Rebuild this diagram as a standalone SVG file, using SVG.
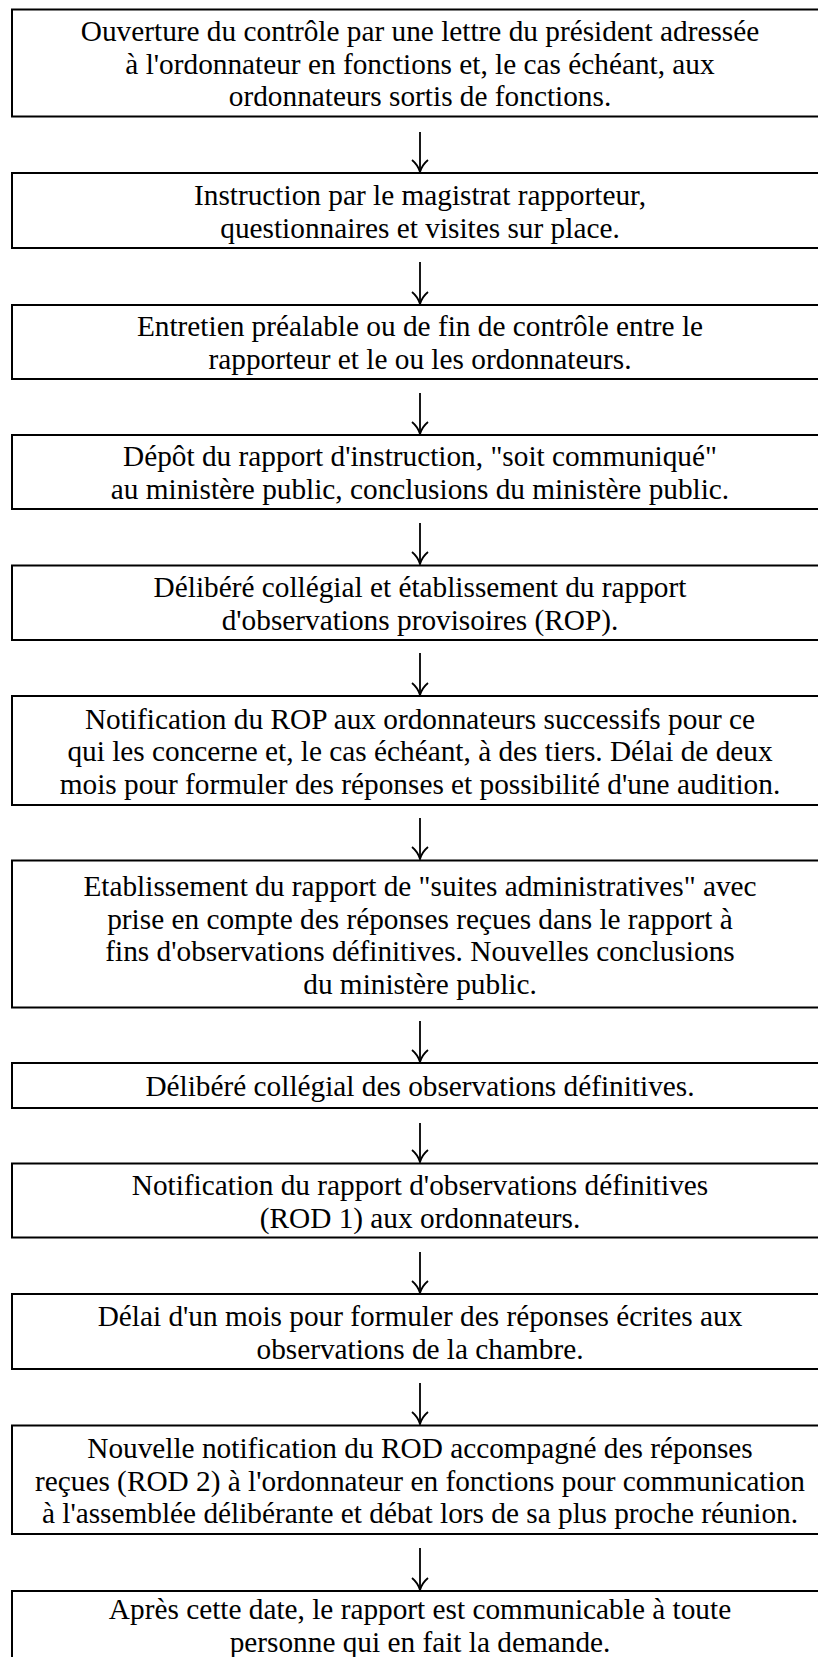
<svg xmlns="http://www.w3.org/2000/svg" width="818" height="1657" viewBox="0 0 818 1657">
<defs>
<style>
.box{fill:#fff;stroke:#000;stroke-width:2}
.t{font-family:"Liberation Serif","Times New Roman",serif;font-size:29.3px;fill:#000;text-anchor:middle}
.c{stroke:#000;stroke-width:1.8;fill:none}
</style>
</defs>
<rect width="818" height="1657" fill="#fff"/>
<g id="connectors">
<line class="c" x1="420" y1="132" x2="420" y2="172"/>
<line class="c" x1="420" y1="262" x2="420" y2="304"/>
<line class="c" x1="420" y1="393" x2="420" y2="434"/>
<line class="c" x1="420" y1="523" x2="420" y2="564"/>
<line class="c" x1="420" y1="653" x2="420" y2="695"/>
<line class="c" x1="420" y1="818" x2="420" y2="859"/>
<line class="c" x1="420" y1="1021" x2="420" y2="1062"/>
<line class="c" x1="420" y1="1123" x2="420" y2="1162"/>
<line class="c" x1="420" y1="1252" x2="420" y2="1293"/>
<line class="c" x1="420" y1="1383" x2="420" y2="1424"/>
<line class="c" x1="420" y1="1548" x2="420" y2="1590"/>
<g class="c">
<path d="M412,160 Q418,165 420,172 Q422,165 428,160"/>
<path d="M412,292 Q418,297 420,304 Q422,297 428,292"/>
<path d="M412,422 Q418,427 420,434 Q422,427 428,422"/>
<path d="M412,552 Q418,557 420,564 Q422,557 428,552"/>
<path d="M412,683 Q418,688 420,695 Q422,688 428,683"/>
<path d="M412,847 Q418,852 420,859 Q422,852 428,847"/>
<path d="M412,1050 Q418,1055 420,1062 Q422,1055 428,1050"/>
<path d="M412,1150 Q418,1155 420,1162 Q422,1155 428,1150"/>
<path d="M412,1281 Q418,1286 420,1293 Q422,1286 428,1281"/>
<path d="M412,1412 Q418,1417 420,1424 Q422,1417 428,1412"/>
<path d="M412,1578 Q418,1583 420,1590 Q422,1583 428,1578"/>
</g>
</g>
<g id="n1"><rect class="box" x="12" y="9.5" width="820" height="107"/>
<text class="t"><tspan x="420" y="41">Ouverture du contrôle par une lettre du président adressée</tspan><tspan x="420" y="73.5">à l'ordonnateur en fonctions et, le cas échéant, aux</tspan><tspan x="420" y="106">ordonnateurs sortis de fonctions.</tspan></text></g>
<g id="n2"><rect class="box" x="12" y="173" width="820" height="75"/>
<text class="t"><tspan x="420" y="205">Instruction par le magistrat rapporteur,</tspan><tspan x="420" y="237.5">questionnaires et visites sur place.</tspan></text></g>
<g id="n3"><rect class="box" x="12" y="305" width="820" height="74"/>
<text class="t"><tspan x="420" y="336">Entretien préalable ou de fin de contrôle entre le</tspan><tspan x="420" y="368.5">rapporteur et le ou les ordonnateurs.</tspan></text></g>
<g id="n4"><rect class="box" x="12" y="435" width="820" height="74"/>
<text class="t"><tspan x="420" y="466">Dépôt du rapport d'instruction, "soit communiqué"</tspan><tspan x="420" y="498.5">au ministère public, conclusions du ministère public.</tspan></text></g>
<g id="n5"><rect class="box" x="12" y="565.5" width="820" height="74.5"/>
<text class="t"><tspan x="420" y="597">Délibéré collégial et établissement du rapport</tspan><tspan x="420" y="629.5">d'observations provisoires (ROP).</tspan></text></g>
<g id="n6"><rect class="box" x="12" y="696" width="820" height="109"/>
<text class="t"><tspan x="420" y="728.5">Notification du ROP aux ordonnateurs successifs pour ce</tspan><tspan x="420" y="761">qui les concerne et, le cas échéant, à des tiers. Délai de deux</tspan><tspan x="420" y="793.5">mois pour formuler des réponses et possibilité d'une audition.</tspan></text></g>
<g id="n7"><rect class="box" x="12" y="860.5" width="820" height="147"/>
<text class="t"><tspan x="420" y="896">Etablissement du rapport de "suites administratives" avec</tspan><tspan x="420" y="928.5">prise en compte des réponses reçues dans le rapport à</tspan><tspan x="420" y="961">fins d'observations définitives. Nouvelles conclusions</tspan><tspan x="420" y="993.5">du ministère public.</tspan></text></g>
<g id="n8"><rect class="box" x="12" y="1063" width="820" height="45"/>
<text class="t"><tspan x="420" y="1096">Délibéré collégial des observations définitives.</tspan></text></g>
<g id="n9"><rect class="box" x="12" y="1163.5" width="820" height="74"/>
<text class="t"><tspan x="420" y="1195">Notification du rapport d'observations définitives</tspan><tspan x="420" y="1227.5">(ROD 1) aux ordonnateurs.</tspan></text></g>
<g id="n10"><rect class="box" x="12" y="1294" width="820" height="75"/>
<text class="t"><tspan x="420" y="1326">Délai d'un mois pour formuler des réponses écrites aux</tspan><tspan x="420" y="1358.5">observations de la chambre.</tspan></text></g>
<g id="n11"><rect class="box" x="12" y="1425.5" width="820" height="108.5"/>
<text class="t"><tspan x="420" y="1458">Nouvelle notification du ROD accompagné des réponses</tspan><tspan x="420" y="1490.5">reçues (ROD 2) à l'ordonnateur en fonctions pour communication</tspan><tspan x="420" y="1523">à l'assemblée délibérante et débat lors de sa plus proche réunion.</tspan></text></g>
<g id="n12"><rect class="box" x="12" y="1591" width="820" height="100"/>
<text class="t"><tspan x="420" y="1619">Après cette date, le rapport est communicable à toute</tspan><tspan x="420" y="1652">personne qui en fait la demande.</tspan></text></g>
</svg>
